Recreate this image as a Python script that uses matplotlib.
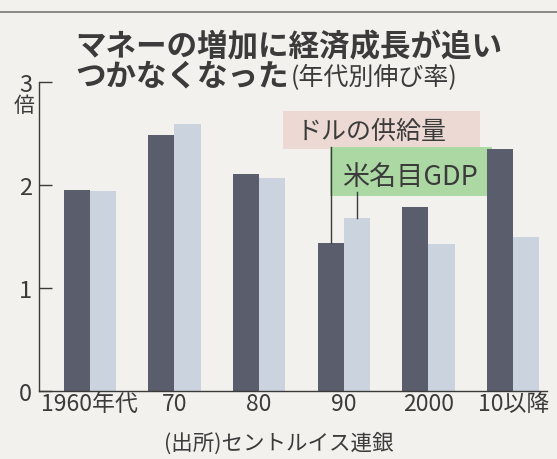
import matplotlib
matplotlib.use("Agg")
import matplotlib.pyplot as plt
from matplotlib.patches import Rectangle
import numpy as np

plt.rcParams['font.family'] = ['Noto Sans CJK JP', 'DejaVu Sans']

categories = ['1960年代', '70', '80', '90', '2000', '10以降']
dollar_supply = [1.95, 2.49, 2.11, 1.44, 1.79, 2.35]
us_nominal_gdp = [1.94, 2.59, 2.07, 1.68, 1.43, 1.50]
yticks = [0, 1, 2, 3]

BG = '#f3f1ee'
DARK = '#5a5d6b'
LIGHT = '#cbd3df'
TXT = '#3b3b3b'

fig = plt.figure(figsize=(5.57, 4.60), dpi=100, facecolor=BG)
W, H = 557, 460


def fx(px):
    return px / W


def fy(py):
    return 1 - py / H


ax = fig.add_axes([fx(39), fy(392), (547 - 39) / W, (392 - 83) / H])
ax.set_facecolor('none')

x = np.arange(len(categories))
w = 0.31
ax.bar(x - w / 2, dollar_supply, width=w, color=DARK, zorder=2)
ax.bar(x + w / 2, us_nominal_gdp, width=w, color=LIGHT, zorder=2)

ax.set_xlim(-0.60, 5.40)
ax.set_ylim(0, 3)
for s in ['top', 'right']:
    ax.spines[s].set_visible(False)
for s in ['left', 'bottom']:
    ax.spines[s].set_color(TXT)
    ax.spines[s].set_linewidth(1.0)

ax.set_yticks(yticks)
ax.set_yticklabels([str(t) for t in yticks], fontsize=17, color=TXT)
ax.tick_params(axis='y', direction='in', length=9, width=1.0, color=TXT, pad=5)
ax.set_xticks(x)
ax.set_xticklabels(categories, fontsize=16.5, color=TXT)
ax.tick_params(axis='x', length=0, pad=1)

# unit label
fig.text(fx(24), fy(106), '倍', fontsize=15, color=TXT, ha='center', va='center')

# annotation highlights (behind the bars)
fig.add_artist(Rectangle((fx(283), fy(150)), (480 - 283) / W, (150 - 112) / H,
                         transform=fig.transFigure, fc='#ecd9d3', ec='none', zorder=-1))
fig.add_artist(Rectangle((fx(330), fy(197)), (492 - 330) / W, (197 - 148) / H,
                         transform=fig.transFigure, fc='#acd8a3', ec='none', zorder=-1))

# annotation leader lines
ax.plot([3 - w / 2, 3 - w / 2], [dollar_supply[3], 2.37], color=TXT, lw=1.0, zorder=3)
ax.plot([3 + w / 2, 3 + w / 2], [us_nominal_gdp[3], 1.93], color=TXT, lw=1.0, zorder=3)
fig.text(fx(297), fy(132), 'ドルの供給量', fontsize=18, color=TXT, ha='left', va='center', zorder=4)
fig.text(fx(342), fy(177), '米名目GDP', fontsize=19.5, color=TXT, ha='left', va='center', zorder=4)

# title
fig.text(fx(75), fy(47), 'マネーの増加に経済成長が追い', fontsize=22, fontweight='bold',
         color=TXT, ha='left', va='center')
fig.text(fx(75), fy(77), 'つかなくなった', fontsize=22, fontweight='bold',
         color=TXT, ha='left', va='center')
fig.text(fx(291), fy(78), '(年代別伸び率)', fontsize=18, color=TXT, ha='left', va='center')

# top rule
fig.add_artist(plt.Line2D([0, 1], [fy(13), fy(13)], color='#777777', lw=1.2))

# source
fig.text(fx(279), fy(444), '(出所)セントルイス連銀', fontsize=15.5, color=TXT, ha='center', va='center')

fig.savefig('out.png', dpi=100, facecolor=BG)
